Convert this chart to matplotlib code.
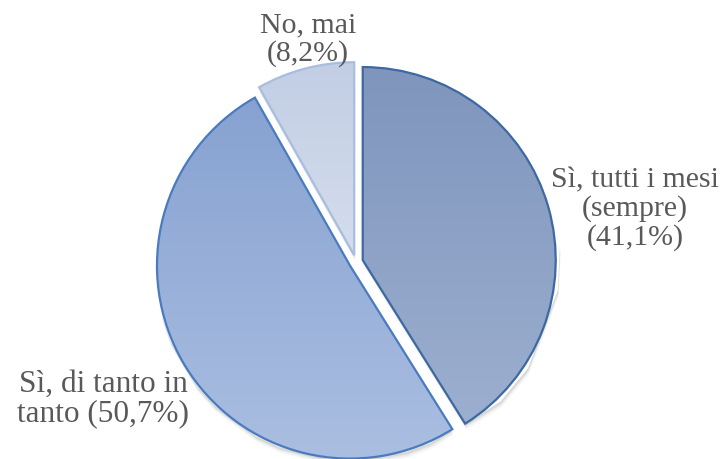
import numpy as np
import matplotlib
matplotlib.use("Agg")
import matplotlib.pyplot as plt
from matplotlib.colors import LinearSegmentedColormap

# Risposte e percentuali
labels = ["Sì, tutti i mesi\n(sempre)\n(41,1%)",
          "Sì, di tanto in\ntanto (50,7%)",
          "No, mai\n(8,2%)"]
values = [41.1, 50.7, 8.2]

# sfumature verticali (alto -> basso) e bordi
top_colors = ["#7f95bc", "#87a2d1", "#c2cee4"]
bottom_colors = ["#9cafd0", "#aabee1", "#d4dded"]
edge_colors = ["#3d69a3", "#4a7bbf", "#a9bedf"]

label_pos = [(635, 250), (103, 60), (308, 419)]
label_size = [21.5, 22.5, 21.5]

W, H = 727, 459
fig = plt.figure(figsize=(W / 100, H / 100), dpi=100)
ax = fig.add_axes([0, 0, 1, 1])

cx, cy, r = 356, 197, 193
wedges, _ = ax.pie(values, startangle=90, counterclock=False,
                   center=(cx, cy), radius=r, explode=[7, 7, 7],
                   frame=True)

grad = np.linspace(1, 0, 256).reshape(-1, 1)
for w, c0, c1, ec in zip(wedges, top_colors, bottom_colors, edge_colors):
    # ombra morbida sotto la fetta
    for k, a in [(6, 0.035), (4, 0.05), (2.5, 0.07)]:
        sh = plt.Polygon(w.get_path().vertices + [k * 0.15, -k],
                         closed=True, fc="#000000", ec="none", alpha=a,
                         zorder=0.5)
        ax.add_patch(sh)
    w.set_facecolor("none")
    w.set_edgecolor(ec)
    w.set_linewidth(1.6)
    w.set_zorder(3)
    x0, y0, x1, y1 = w.get_path().get_extents().extents
    cmap = LinearSegmentedColormap.from_list("g", [c1, c0])
    im = ax.imshow(grad, cmap=cmap, extent=[x0, x1, y0, y1],
                   aspect="auto", zorder=2, origin="upper")
    im.set_clip_path(w)
    base = plt.Polygon(w.get_path().vertices, closed=True, fc="white",
                       ec="none", zorder=1)
    ax.add_patch(base)

ax.set_xlim(0, W)
ax.set_ylim(0, H)
ax.set_aspect("equal")
ax.axis("off")

for lab, (x, y), fs in zip(labels, label_pos, label_size):
    ax.text(x, y, lab, ha="center", va="center", multialignment="center",
            fontsize=fs, family="Liberation Serif", color="#595959",
            linespacing=1.1 * 21.5 / fs)

fig.savefig("out.png", dpi=100)
